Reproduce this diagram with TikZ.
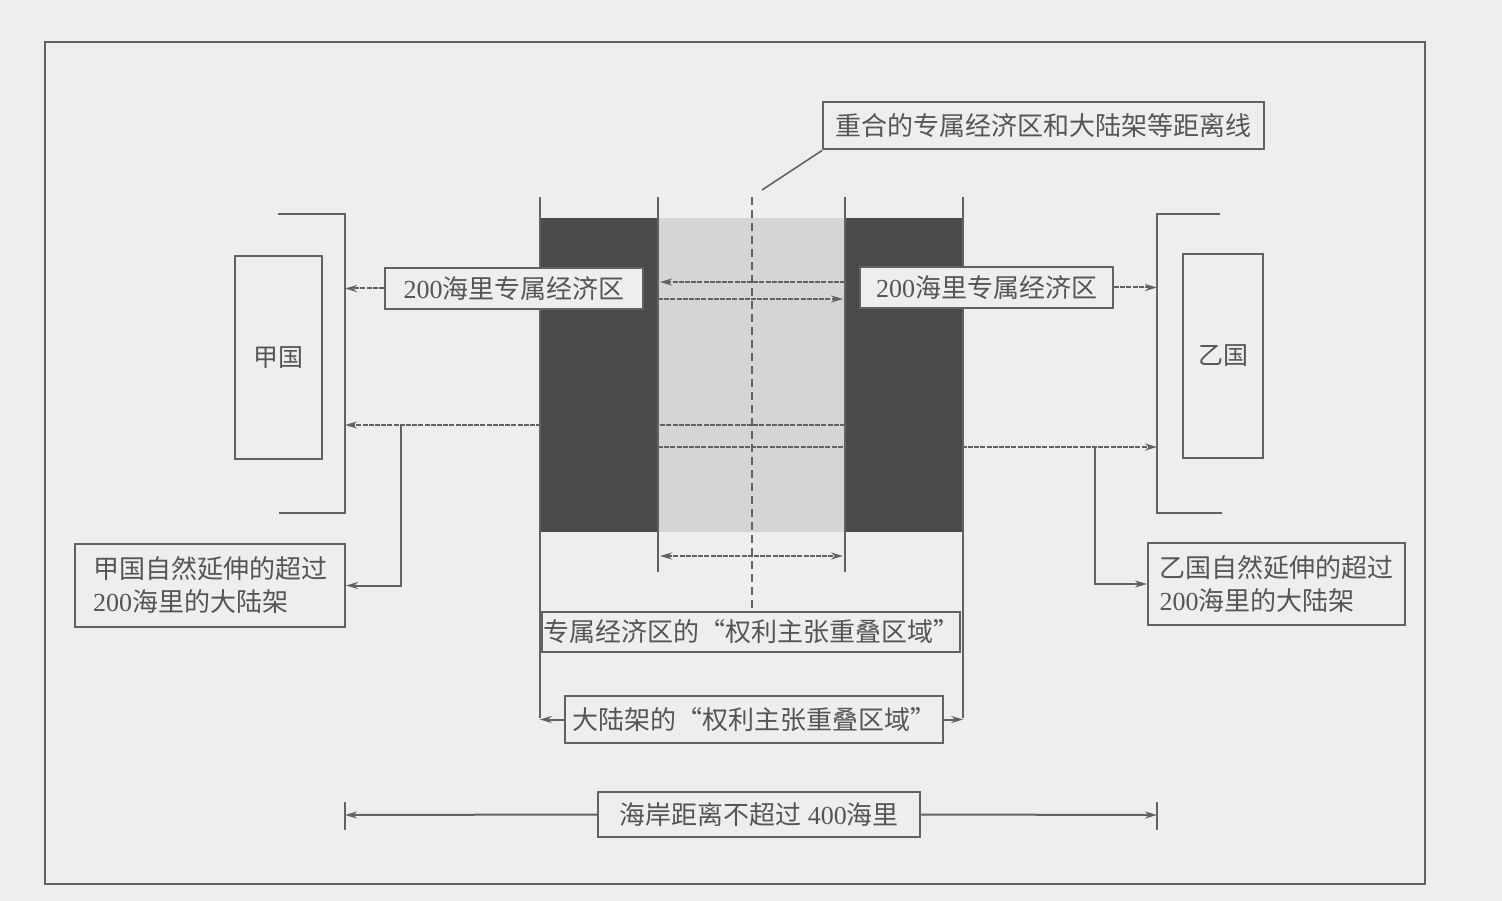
\documentclass[tikz,border=0pt]{standalone}
\usepackage{fontspec}
\setmainfont{Liberation Serif}
\newfontfamily\cjk{Noto Sans CJK SC}
\usetikzlibrary{arrows.meta}
\definecolor{bg}{HTML}{EEEEEE}
\definecolor{lc}{HTML}{626262}
\definecolor{tc}{HTML}{555555}
\definecolor{darkzone}{HTML}{4A4A4A}
\definecolor{lightzone}{HTML}{D5D5D5}
\tikzset{
  ln/.style={draw=lc, line width=2pt},
  thin line/.style={draw=lc, line width=1.6pt},
  fine/.style={dash pattern=on 5pt off 1.2pt},
  arr/.style={-{Stealth[length=12pt,width=7pt]}},
  darr/.style={{Stealth[length=12pt,width=7pt]}-{Stealth[length=12pt,width=7pt]}},
  lbl/.style={draw=lc, line width=2pt, fill=bg, inner sep=0pt, text=tc,
    font=\fontsize{26}{33}\selectfont, align=center},
  zone/.style={inner sep=0pt, draw=none},
}
\begin{document}
\begin{tikzpicture}[x=1pt,y=-1pt]
\useasboundingbox (0,0) rectangle (1502,901);
\fill[bg] (0,0) rectangle (1502,901);
% outer frame
\draw[lc, line width=2.4pt] (45,42) rectangle (1425,884);

% zones
\node[zone, fill=lightzone, minimum width=187pt, minimum height=314pt] (light) at (751.5,375) {};
% lines crossing the light zone (behind the dark zones)
\draw[ln, fine, arr] (845,282) -- (660,282);
\draw[ln, fine, arr] (658,299) -- (843,299);
\coordinate (jiaShelf) at (345,425);
\coordinate (yiShelf) at (1157,447);
\draw[ln, fine, arr] (845,425) -- (jiaShelf);
\draw[ln, fine, arr] (658,447) -- (yiShelf);
\node[zone, fill=darkzone, minimum width=118pt, minimum height=314pt] (darkL) at (599,375) {};
\node[zone, fill=darkzone, minimum width=118pt, minimum height=314pt] (darkR) at (904,375) {};

% vertical boundary lines
\draw[thin line] (540,197) -- (540,718);
\draw[thin line] (963,197) -- (963,718);
\draw[thin line] (658,197) -- (658,572);
\draw[thin line] (845,197) -- (845,572);

% countries
\node[draw=lc, line width=2pt, minimum width=87pt, minimum height=203pt, inner sep=0pt,
  text=tc, font=\fontsize{25}{30}\selectfont] (jia) at (278.5,357.5) {\cjk 甲国};
\node[draw=lc, line width=2pt, minimum width=80pt, minimum height=204pt, inner sep=0pt,
  text=tc, font=\fontsize{25}{30}\selectfont] (yi) at (1223,356) {\cjk 乙国};
% coast brackets
\draw[ln] (278,214) -- (345,214) -- (345,513) -- (279,513);
\draw[ln] (1220,214) -- (1157,214) -- (1157,513) -- (1222,513);

% labels
\node[lbl, minimum width=258pt, minimum height=41pt] (eezL) at (514,288.5) {200{\cjk 海里专属经济区}};
\node[lbl, minimum width=253pt, minimum height=41pt] (eezR) at (986.5,287.5) {200{\cjk 海里专属经济区}};
\node[lbl, minimum width=441pt, minimum height=47pt] (eq) at (1043.5,126) {\cjk 重合的专属经济区和大陆架等距离线};
\node[lbl, minimum width=270pt, minimum height=83pt, align=left] (shelfL) at (210,585.5)
  {{\cjk 甲国自然延伸的超过}\\200{\cjk 海里的大陆架}};
\node[lbl, minimum width=257pt, minimum height=82pt, align=left] (shelfR) at (1276.5,584)
  {{\cjk 乙国自然延伸的超过}\\200{\cjk 海里的大陆架}};
\node[lbl, minimum width=418pt, minimum height=40pt] (eezOv) at (751,632)
  {\cjk 专属经济区的“权利主张重叠区域”};
\node[lbl, minimum width=378pt, minimum height=47pt] (shelfOv) at (754,719.5)
  {\cjk 大陆架的“权利主张重叠区域”};
\node[lbl, minimum width=322pt, minimum height=45pt] (dist) at (759,814.5)
  {{\cjk 海岸距离不超过} 400{\cjk 海里}};

% connectors
\draw[ln, fine, arr] (eezL.west) -- (eezL.west -| jiaShelf);
\draw[ln, fine, arr] (eezR.east) -- (eezR.east -| yiShelf);
\draw[ln, arr] (401,425) |- (shelfL.east);
\draw[ln, arr] (1095,447) |- (shelfR.west);
\coordinate (eqEnd) at (762,190);
\draw[thin line] (eq.south west) -- (eqEnd);
\draw[lc, line width=1.8pt, dash pattern=on 8pt off 5pt] (752,197) -- (eezOv.north -| 752,0);
\draw[ln, fine, darr] (660,556) -- (843,556);
\draw[ln, arr] (shelfOv.west) -- (shelfOv.west -| darkL.west);
\draw[ln, arr] (shelfOv.east) -- (shelfOv.east -| darkR.east);
% 400 nm dimension
\coordinate (coastL) at (345,815);
\coordinate (coastR) at (1157,815);
\draw[thin line] (345,802) -- (345,830);
\draw[thin line] (1157,802) -- (1157,830);
\draw[ln, arr] (dist.west) -- (coastL);
\draw[ln, arr] (dist.east) -- (coastR);
\end{tikzpicture}
\end{document}
